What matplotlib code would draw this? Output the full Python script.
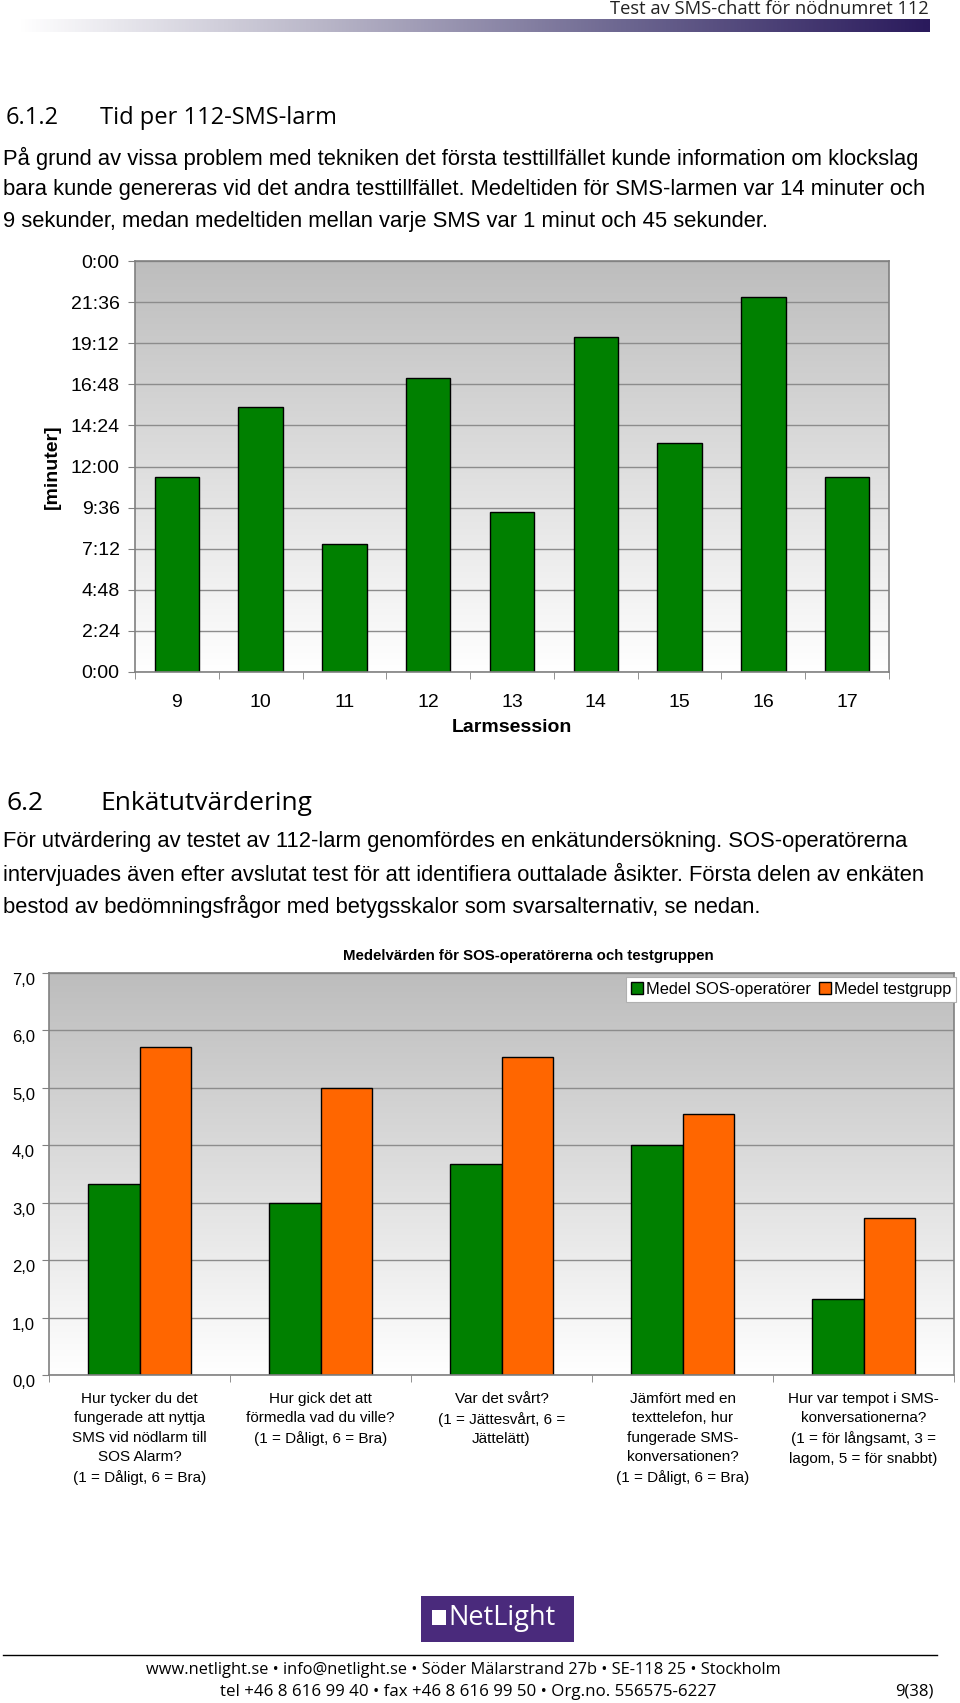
import numpy as np
import matplotlib
matplotlib.use("Agg")
import matplotlib.pyplot as plt
from matplotlib.colors import LinearSegmentedColormap
from matplotlib.patches import Rectangle
from matplotlib.lines import Line2D

# --- data -------------------------------------------------------------
sessions = ["9", "10", "11", "12", "13", "14", "15", "16", "17"]
session_times = ["11:24", "15:28", "7:28", "17:10", "9:21", "19:32", "13:23", "21:53", "11:24"]

questions = [
    "Hur tycker du det\nfungerade att nyttja\nSMS vid nödlarm till\nSOS Alarm?\n(1 = Dåligt, 6 = Bra)",
    "Hur gick det att\nförmedla vad du ville?\n(1 = Dåligt, 6 = Bra)",
    "Var det svårt?\n(1 = Jättesvårt, 6 =\nJättelätt)",
    "Jämfört med en\ntexttelefon, hur\nfungerade SMS-\nkonversationen?\n(1 = Dåligt, 6 = Bra)",
    "Hur var tempot i SMS-\nkonversationerna?\n(1 = för långsamt, 3 =\nlagom, 5 = för snabbt)",
]
mean_sos = [3.33, 3.0, 3.67, 4.0, 1.33]
mean_test = [5.71, 5.0, 5.54, 4.54, 2.73]
series_names = ["Medel SOS-operatörer", "Medel testgrupp"]

body_612 = [
    "På grund av vissa problem med tekniken det första testtillfället kunde information om klockslag",
    "bara kunde genereras vid det andra testtillfället. Medeltiden för SMS-larmen var 14 minuter och",
    "9 sekunder, medan medeltiden mellan varje SMS var 1 minut och 45 sekunder.",
]
body_62 = [
    "För utvärdering av testet av 112-larm genomfördes en enkätundersökning. SOS-operatörerna",
    "intervjuades även efter avslutat test för att identifiera outtalade åsikter. Första delen av enkäten",
    "bestod av bedömningsfrågor med betygsskalor som svarsalternativ, se nedan.",
]

GREEN = "#008000"
ORANGE = "#ff6600"
SANS = ["Liberation Sans", "DejaVu Sans"]
DOC = ["Open Sans", "DejaVu Sans"]

W, H = 960, 1703


def fx(x):
    return x / W


def fy(y):
    return 1 - y / H


def box(l, t, r, b):
    return [fx(l), fy(b), (r - l) / W, (b - t) / H]


def to_minutes(s):
    m, sec = s.split(":")
    return int(m) + int(sec) / 60


def hmm(v, pos=None):
    # the original axis used an h:mm format, so 24:00 wraps round to 0:00
    total = int(round(v * 60))
    return f"{(total // 60) % 24}:{total % 60:02d}"


def gradient_bg(ax, top="#bdbdbd", bottom="#ffffff"):
    cmap = LinearSegmentedColormap.from_list("bg", [bottom, top])
    x0, x1 = ax.get_xlim()
    y0, y1 = ax.get_ylim()
    grad = np.linspace(1, 0, 256)[:, None]
    ax.imshow(grad, cmap=cmap, extent=[x0, x1, y0, y1], aspect="auto",
              zorder=0, interpolation="bicubic")
    ax.set_xlim(x0, x1)
    ax.set_ylim(y0, y1)


def style_axes(ax):
    for sp in ax.spines.values():
        sp.set_color("#808080")
        sp.set_linewidth(1.2)
    ax.yaxis.grid(True, color="#8c8c8c", lw=1.0, zorder=0.5)
    ax.set_axisbelow(True)
    ax.tick_params(axis="y", length=5, color="#808080", direction="out")
    ax.tick_params(axis="x", which="major", length=0)
    ax.tick_params(axis="x", which="minor", length=5, color="#808080", direction="out")


fig = plt.figure(figsize=(9.6, 17.03), dpi=100)

# --- page header ------------------------------------------------------
fig.text(fx(929), fy(9), "Test av SMS-chatt för nödnumret 112", family=DOC,
         fontsize=13.2, ha="right", va="center", color="#222222")
bar = fig.add_axes(box(18, 19, 930, 32))
bar_cmap = LinearSegmentedColormap.from_list("hdr", ["#ffffff", "#b9b6c8", "#6c6690", "#2a1a5c"])
bar.imshow(np.linspace(0, 1, 512)[None, :], cmap=bar_cmap, aspect="auto")
bar.axis("off")

fig.text(fx(6), fy(118), "6.1.2", family=DOC, fontsize=17, va="center")
fig.text(fx(100), fy(118), "Tid per 112-SMS-larm", family=DOC, fontsize=17, va="center")
for i, line in enumerate(body_612):
    fig.text(fx(3), fy(158 + i * 32), line, family=SANS, fontsize=15.8, va="center")

# --- chart 1: time per alarm session ---------------------------------
ax1 = fig.add_axes(box(135, 261, 889, 672))
x1 = np.arange(len(sessions))
vals1 = [to_minutes(s) for s in session_times]
ax1.set_xlim(-0.5, len(sessions) - 0.5)
ax1.set_ylim(0, 24)
gradient_bg(ax1)
ax1.bar(x1, vals1, width=0.53, color=GREEN, edgecolor="black", lw=1, zorder=2)
ax1.set_yticks(np.arange(0, 24.01, 2.4))
ax1.yaxis.set_major_formatter(plt.FuncFormatter(hmm))
ax1.set_xticks(x1)
ax1.set_xticklabels(sessions)
ax1.set_xticks(np.arange(len(sessions) + 1) - 0.5, minor=True)
style_axes(ax1)
ax1.tick_params(axis="y", labelsize=14, pad=6)
ax1.tick_params(axis="x", which="major", labelsize=14, pad=16)
for t in ax1.get_xticklabels() + ax1.get_yticklabels():
    t.set_family(SANS)
fig.text(fx(512), fy(727), "Larmsession", family=SANS, fontsize=14, weight="bold",
         ha="center", va="center")
fig.text(fx(52), fy(467), "[minuter]", family=SANS, fontsize=14, weight="bold",
         ha="center", va="center", rotation=90)

# --- section 6.2 ------------------------------------------------------
fig.text(fx(6), fy(803), "6.2", family=DOC, fontsize=19, va="center")
fig.text(fx(100), fy(803), "Enkätutvärdering", family=DOC, fontsize=19, va="center")
for i, line in enumerate(body_62):
    fig.text(fx(3), fy(842 + i * 32.2), line, family=SANS, fontsize=15.8, va="center")

# --- chart 2: mean scores ---------------------------------------------
ax2 = fig.add_axes(box(49, 973, 954, 1375))
x2 = np.arange(len(questions))
ax2.set_xlim(-0.5, len(questions) - 0.5)
ax2.set_ylim(0, 7)
gradient_bg(ax2)
bw = 0.284
ax2.bar(x2 - bw / 2, mean_sos, width=bw, color=GREEN, edgecolor="black", lw=1, zorder=2)
ax2.bar(x2 + bw / 2, mean_test, width=bw, color=ORANGE, edgecolor="black", lw=1, zorder=2)
ax2.set_yticks(np.arange(0, 8))
ax2.yaxis.set_major_formatter(plt.FuncFormatter(lambda v, p: f"{v:.1f}".replace(".", ",")))
ax2.set_xticks(x2)
ax2.set_xticklabels(questions, linespacing=1.5)
ax2.set_xticks(np.arange(len(questions) + 1) - 0.5, minor=True)
style_axes(ax2)
ax2.tick_params(axis="y", labelsize=12, pad=5)
ax2.tick_params(axis="x", which="major", labelsize=11, pad=12)
for t in ax2.get_xticklabels() + ax2.get_yticklabels():
    t.set_family(SANS)
    t.set_verticalalignment("top")

fig.text(fx(528), fy(956), "Medelvärden för SOS-operatörerna och testgruppen", family=SANS,
         fontsize=10.8, weight="bold", ha="center", va="center")

handles = [Rectangle((0, 0), 1, 1, facecolor=c, edgecolor="black", lw=1) for c in (GREEN, ORANGE)]
leg = ax2.legend(handles, series_names, ncol=2, loc="upper right",
                 bbox_to_anchor=(fx(956), fy(977)), bbox_transform=fig.transFigure,
                 borderaxespad=0, fancybox=False, framealpha=1, edgecolor="#b0b0b0",
                 handlelength=0.75, handleheight=0.75, handletextpad=0.15,
                 columnspacing=0.5, borderpad=0.3, prop={"family": SANS, "size": 11.8})
leg.get_frame().set_linewidth(0.8)

# --- footer -----------------------------------------------------------
fig.patches.append(Rectangle((fx(421), fy(1642)), (574 - 421) / W, (1642 - 1596) / H,
                             transform=fig.transFigure, facecolor="#4a2a7c", edgecolor="none"))
fig.patches.append(Rectangle((fx(432), fy(1625)), 14 / W, 15 / H,
                             transform=fig.transFigure, facecolor="white", edgecolor="none"))
fig.text(fx(448), fy(1618), "NetLight", family=DOC, fontsize=19.5, color="white",
         va="center", ha="left")
fig.lines.append(Line2D([fx(3), fx(937)], [fy(1655), fy(1655)], transform=fig.transFigure,
                        color="black", lw=1))
fig.text(fx(463), fy(1670),
         "www.netlight.se \u2022 info@netlight.se \u2022 Söder Mälarstrand 27b \u2022 SE-118 25 \u2022 Stockholm",
         family=DOC, fontsize=11.8, ha="center", va="center")
fig.text(fx(468), fy(1692), "tel +46 8 616 99 40 \u2022 fax +46 8 616 99 50 \u2022 Org.no. 556575-6227",
         family=DOC, fontsize=12.2, ha="center", va="center")
fig.text(fx(934), fy(1692), "9(38)", family=DOC, fontsize=12, ha="right", va="center")

fig.savefig("out.png", dpi=100)
